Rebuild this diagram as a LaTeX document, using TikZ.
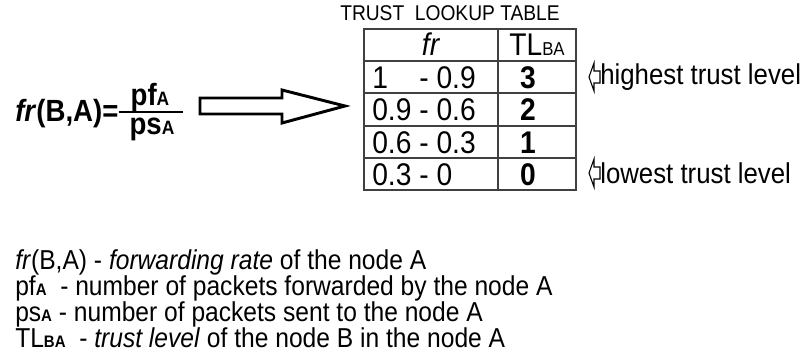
\documentclass[tikz,border=0pt]{standalone}
\usepackage{fontspec}
\setmainfont{Liberation Sans}[FakeStretch=0.9]
\usetikzlibrary{positioning}

\newcommand{\lowcap}[1]{{\fontsize{12.5}{12.5}\selectfont\bfseries #1}}
\newcommand{\biglowcap}[1]{{\fontsize{14.5}{14.5}\selectfont\bfseries #1}}

\begin{document}
\begin{tikzpicture}[
  x=0.75pt,y=-0.75pt,
  txt/.style={font=\fontsize{20.5}{22}\selectfont,inner sep=0pt},
  cell/.style={font=\fontsize{23.5}{25}\selectfont,inner sep=0pt,anchor=base},
  formula/.style={font=\fontsize{23}{25}\selectfont\bfseries,inner sep=0pt,anchor=base},
  grid/.style={draw=black!75,line width=0.8pt},
  hollow/.style={draw=black,line width=2.2pt,line join=miter},
  pointer/.style={draw=black,line width=0.8pt,line join=miter}
]
  \useasboundingbox (0,0) rectangle (803,351);

  % formula
  \node[formula,anchor=base west] (fr) at (15,121) {\textit{fr}(B,A)=};
  \coordinate (barend) at (183,112);
  \draw[line width=1pt] (fr.east |- barend) -- (barend);
  \node[formula] (pf) at (150,105) {pf\biglowcap{A}};
  \node[formula] (ps) at (152,134) {ps\biglowcap{A}};

  % hollow arrow
  \draw[hollow] (200,98) -- (282,98) -- (282,90) -- (345,106) -- (282,123)
    -- (282,114) -- (200,114) -- cycle;

  % lookup table
  \node[txt,font=\fontsize{16}{18}\selectfont,anchor=base] (title) at (450,20) {TRUST\ \ LOOKUP TABLE};
  \draw[grid] (364,29) rectangle (576,190);
  \foreach \y in {61,93,126,158}
    \draw[grid] (364,\y) -- (576,\y);
  \draw[grid] (498,29) -- (498,190);

  \node[cell] (hfr) at (431,55) {\textit{fr}};
  \node[cell] (htl) at (537,55) {TL{\fontsize{14}{14}\selectfont BA}};

  \node[cell,anchor=base west] (r1) at (372,88) {1\phantom{.9} - 0.9};
  \node[cell,anchor=base west] (r2) at (372,120) {0.9 - 0.6};
  \node[cell,anchor=base west] (r3) at (372,153) {0.6 - 0.3};
  \node[cell,anchor=base west] (r4) at (372,185) {0.3 - 0};
  \node[cell,font=\fontsize{23.5}{25}\selectfont\bfseries] (t1) at (528,88) {3};
  \node[cell,font=\fontsize{23.5}{25}\selectfont\bfseries] (t2) at (528,120) {2};
  \node[cell,font=\fontsize{23.5}{25}\selectfont\bfseries] (t3) at (528,153) {1};
  \node[cell,font=\fontsize{23.5}{25}\selectfont\bfseries] (t4) at (528,185) {0};

  % trust level pointers
  \foreach \y/\lbl/\nm in {77/highest trust level/hi,173/lowest trust level/lo}{
    \draw[pointer] (589,\y) -- (594,\y-14) -- (594,\y-6) -- (600,\y-6)
      -- (600,\y+6) -- (594,\y+6) -- (594,\y+14) -- cycle;
    \node[txt,font=\fontsize{21.5}{23}\selectfont,anchor=west] (\nm) at (600,\y) {\lbl};
  }

  % legend
  \node[txt,anchor=base west] (l1) at (15,269) {\textit{fr}(B,A) - \textit{forwarding rate} of the node A};
  \node[txt,anchor=base west] (l2) at (15,295) {pf\lowcap{A}\ \ - number of packets forwarded by the node A};
  \node[txt,anchor=base west] (l3) at (15,321) {ps\lowcap{A} - number of packets sent to the node A};
  \node[txt,anchor=base west] (l4) at (15,347) {TL\lowcap{BA}\ \ - \textit{trust level} of the node B in the node A};
\end{tikzpicture}
\end{document}
